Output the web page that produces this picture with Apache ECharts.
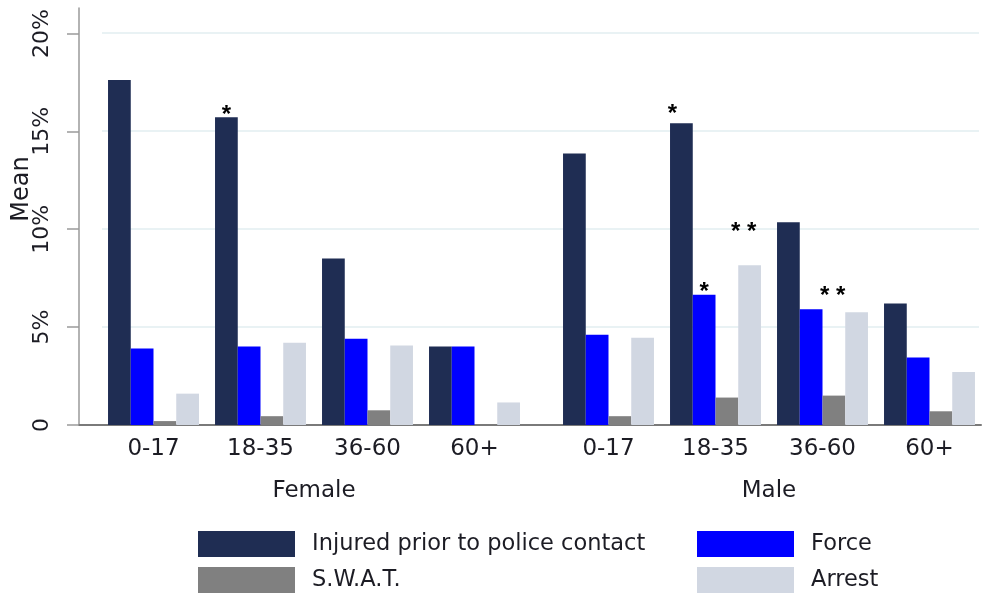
<!DOCTYPE html>
<html>
<head>
<meta charset="utf-8">
<script src="https://cdn.jsdelivr.net/npm/echarts@6/dist/echarts.min.js"></script>
<style>
html,body{margin:0;padding:0;background:#fff;}
#chart{width:995px;height:598px;}
</style>
</head>
<body>
<div id="chart"></div>
<script>
// ---- data ----
const ageGroups = ['0-17', '18-35', '36-60', '60+'];
const sexes = ['Female', 'Male'];
const seriesNames = ['Injured prior to police contact', 'Force', 'S.W.A.T.', 'Arrest'];
const yTicks = [0, 5, 10, 15, 20];

const femaleInjured = [17.6, 15.7, 8.5, 4.0];
const femaleForce   = [3.9, 4.0, 4.4, 4.0];
const femaleSwat    = [0.2, 0.45, 0.75, 0];
const femaleArrest  = [1.6, 4.2, 4.05, 1.15];

const maleInjured = [13.85, 15.4, 10.35, 6.2];
const maleForce   = [4.6, 6.65, 5.9, 3.45];
const maleSwat    = [0.45, 1.4, 1.5, 0.7];
const maleArrest  = [4.45, 8.15, 5.75, 2.7];

// significance marks
const femaleInjuredSig = ['', '*', '', ''];
const femaleForceSig   = ['', '', '', ''];
const femaleSwatSig    = ['', '', '', ''];
const femaleArrestSig  = ['', '', '', ''];
const maleInjuredSig = ['', '*', '', ''];
const maleForceSig   = ['', '*', '', ''];
const maleSwatSig    = ['', '', '', ''];
const maleArrestSig  = ['', '* *', '* *', ''];

// ---- styling ----
const colors = ['#1f2d53', '#0000ff', '#808080', '#d1d7e2'];
const FONT = "'DejaVu Sans', 'Liberation Sans', Arial, sans-serif";
const STAR_FONT = "'Liberation Sans', Arial, sans-serif";
const textColor = '#1c1c24';
// label nudges for significance marks: key "series-sex-age" -> [dx, dy]
const sigNudge = {
  '0-0-1': [0, 10],
  '0-1-1': [-9, 3],
  '1-1-1': [0, 10],
  '3-1-1': [-6, -21],
  '3-1-2': [-24, -4]
};

const valuesBySex = [
  [femaleInjured, femaleForce, femaleSwat, femaleArrest],
  [maleInjured, maleForce, maleSwat, maleArrest]
];
const sigBySex = [
  [femaleInjuredSig, femaleForceSig, femaleSwatSig, femaleArrestSig],
  [maleInjuredSig, maleForceSig, maleSwatSig, maleArrestSig]
];

const series = [];
sexes.forEach(function (sex, si) {
  seriesNames.forEach(function (name, k) {
    const vals = valuesBySex[si][k];
    const sigs = sigBySex[si][k];
    series.push({
      name: name,
      type: 'bar',
      xAxisIndex: 2 + si,
      yAxisIndex: 2 + si,
      barGap: '0%',
      barCategoryGap: '15%',
      itemStyle: { color: colors[k] },
      emphasis: { disabled: true },
      data: vals.map(function (v, i) {
        const item = { value: v };
        if (sigs[i]) {
          const nudge = sigNudge[k + '-' + si + '-' + i] || [0, 0];
          item.label = {
            show: true,
            position: 'top',
            distance: 0,
            offset: nudge,
            formatter: sigs[i],
            color: '#000',
            fontSize: 24,
            fontWeight: 'bold',
            fontFamily: STAR_FONT
          };
        }
        return item;
      })
    });
  });
});

const chart = echarts.init(document.getElementById('chart'), null, { renderer: 'canvas' });
chart.setOption({
  backgroundColor: '#ffffff',
  animation: false,
  textStyle: { fontFamily: FONT },
  grid: [
    { left: 79, right: 14, top: 8, bottom: 173 },
    { left: 102, right: 16, top: 33, bottom: 173 },
    { left: 100, width: 428, top: 33, bottom: 173 },
    { left: 555, width: 428, top: 33, bottom: 173 }
  ],
  xAxis: [
    { gridIndex: 0, type: 'value', min: 0, max: 1,
      axisLine: { show: true, lineStyle: { color: '#7a7a7a', width: 2 } },
      axisTick: { show: false }, axisLabel: { show: false }, splitLine: { show: false } },
    { gridIndex: 1, type: 'value', min: 0, max: 1, show: false },
    { gridIndex: 2, type: 'category', data: ageGroups,
      axisLine: { show: false }, axisTick: { show: false },
      axisLabel: { fontSize: 23, color: textColor, margin: 13, fontFamily: FONT },
      name: sexes[0], nameLocation: 'middle', nameGap: 55,
      nameTextStyle: { fontSize: 23, color: textColor, fontFamily: FONT } },
    { gridIndex: 3, type: 'category', data: ageGroups,
      axisLine: { show: false }, axisTick: { show: false },
      axisLabel: { fontSize: 23, color: textColor, margin: 13, fontFamily: FONT },
      name: sexes[1], nameLocation: 'middle', nameGap: 55,
      nameTextStyle: { fontSize: 23, color: textColor, fontFamily: FONT } }
  ],
  yAxis: [
    { gridIndex: 0, type: 'value', min: 0, max: 21.3,
      axisLine: { show: true, lineStyle: { color: '#9a9a9a', width: 1.5 } },
      axisTick: { show: true, length: 12, customValues: yTicks, lineStyle: { color: '#9a9a9a', width: 1.5 } },
      axisLabel: { customValues: yTicks, rotate: 90, margin: 26, fontSize: 22, color: textColor, fontFamily: FONT,
        formatter: function (v) { return v === 0 ? '0' : v + '%'; } },
      splitLine: { show: false } },
    { gridIndex: 1, type: 'value', min: 0, max: 20, interval: 5,
      axisLine: { show: false }, axisTick: { show: false }, axisLabel: { show: false },
      splitLine: { show: true, lineStyle: { color: '#e9f2f4', width: 2 } } },
    { gridIndex: 2, type: 'value', min: 0, max: 20, interval: 5, show: false },
    { gridIndex: 3, type: 'value', min: 0, max: 20, interval: 5, show: false }
  ],
  legend: [
    { data: [seriesNames[0], seriesNames[2]], orient: 'vertical', left: 198, top: 531,
      padding: 0, itemWidth: 97, itemHeight: 26, itemGap: 10, icon: 'rect', selectedMode: false,
      textStyle: { fontSize: 22.5, color: textColor, fontFamily: FONT, padding: [0, 0, 0, 12] } },
    { data: [seriesNames[1], seriesNames[3]], orient: 'vertical', left: 697, top: 531,
      padding: 0, itemWidth: 97, itemHeight: 26, itemGap: 10, icon: 'rect', selectedMode: false,
      textStyle: { fontSize: 22.5, color: textColor, fontFamily: FONT, padding: [0, 0, 0, 12] } }
  ],
  graphic: [
    { type: 'text', x: 22, y: 189, rotation: Math.PI / 2,
      style: { text: 'Mean', fontSize: 24, fontFamily: FONT, fill: textColor,
        textAlign: 'center', textVerticalAlign: 'middle' } }
  ],
  series: series
});
</script>
</body>
</html>
